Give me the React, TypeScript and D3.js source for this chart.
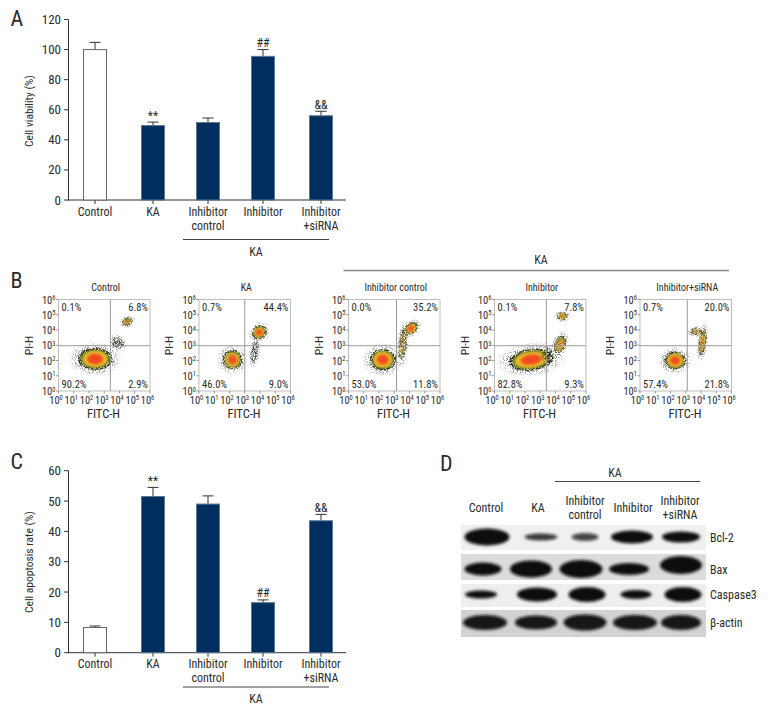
import React from "react";
import * as d3 from "d3";

const FONT = "'Liberation Sans Narrow','Roboto Condensed','Liberation Sans',sans-serif";
const TEXT = "#2b2b2b";
const NAVY = "#002f5f";

const barCategories = [["Control"], ["KA"], ["Inhibitor", "control"], ["Inhibitor"], ["Inhibitor", "+siRNA"]];
const barCenters = [95, 153, 208, 263, 321];
const viabilityValues = [100, 49.5, 51.5, 95.5, 56];
const viabilityErrors = [104.8, 51.8, 54.5, 100, 59];
const viabilityMarks = ["", "**", "", "##", "&&"];
const apoptosisValues = [8.3, 51.5, 49, 16.5, 43.5];
const apoptosisErrors = [8.8, 54.5, 51.7, 17.4, 45.6];
const apoptosisMarks = ["", "**", "", "##", "&&"];

const flowTitles = ["Control", "KA", "Inhibitor control", "Inhibitor", "Inhibitor+siRNA"];
const flowLefts = [58.5, 199, 348.5, 494.5, 640];
const flowQuadX = [3.4, 3.0, 3.15, 3.4, 3.1];
const flowUL = ["0.1%", "0.7%", "0.0%", "0.1%", "0.7%"];
const flowUR = ["6.8%", "44.4%", "35.2%", "7.8%", "20.0%"];
const flowLL = ["90.2%", "46.0%", "53.0%", "82.8%", "57.4%"];
const flowLR = ["2.9%", "9.0%", "11.8%", "9.3%", "21.8%"];
// clusters per plot: [log x, log y, radius x (decades), radius y (decades), rotation, heat 0-1]
const flowClusters: number[][][] = [
  [[2.4, 2.1, 0.95, 0.62, 0, 1], [4.5, 4.55, 0.3, 0.22, -20, 0.55], [3.9, 3.15, 0.28, 0.35, -40, 0.12]],
  [[2.2, 2.05, 0.55, 0.55, 0, 0.72], [3.95, 3.85, 0.42, 0.36, -40, 0.85], [3.65, 2.6, 0.2, 0.6, 10, 0.08]],
  [[2.25, 2.05, 0.72, 0.6, 0, 0.9], [4.1, 4.1, 0.42, 0.3, -40, 0.85], [3.55, 3.05, 0.22, 0.85, 5, 0.25]],
  [[2.4, 2.05, 1.25, 0.6, -8, 1], [4.3, 3.05, 0.3, 0.5, 20, 0.55], [4.45, 4.9, 0.3, 0.22, 0, 0.55], [3.45, 2.45, 0.25, 0.35, 40, 0.2]],
  [[2.3, 2.0, 0.6, 0.5, 0, 0.9], [4.1, 3.2, 0.2, 0.72, 8, 0.55], [3.7, 3.9, 0.35, 0.2, 0, 0.3]],
];

const blotLanes = ["Control", "KA", "Inhibitor\ncontrol", "Inhibitor", "Inhibitor\n+siRNA"];
const blotLaneX = [486, 538, 585, 633, 680];
const blotRows = ["Bcl-2", "Bax", "Caspase3", "β-actin"];
const blotRowY = [537, 569, 594.5, 622.5];
const blotRowTop = [525, 554, 584, 610];
const blotRowBottom = [550, 580, 607, 637];
const blotBg = ["#f0f0f0", "#dcdcdc", "#eeeeee", "#d2d2d2"];
// bands per row: [centre x, width, height, darkness]
const blotBands: number[][][] = [
  [[487, 45, 17, 1], [541, 33, 7, 0.8], [585, 27, 8, 0.75], [632, 42, 13, 1], [681, 38, 11, 1]],
  [[483, 37, 13, 1], [531, 42, 17, 1], [581, 43, 18, 1], [629, 40, 12, 1], [681, 42, 18, 1]],
  [[481, 32, 8, 1], [537, 40, 14, 1], [587, 37, 15, 1], [636, 31, 9, 1], [683, 37, 15, 1]],
  [[485, 44, 15, 0.95], [536, 42, 14, 0.95], [585, 43, 16, 0.95], [635, 44, 15, 0.95], [681, 40, 15, 0.95]],
];

function T({ x, y, children, size = 11, anchor = "middle", rotate, fill = TEXT, sx = 1 }: any) {
  const tf = rotate ? `rotate(${rotate} ${x} ${y})` : sx !== 1 ? `translate(${x} ${y}) scale(${sx} 1) translate(${-x} ${-y})` : undefined;
  return (
    <text x={x} y={y} fontSize={size} textAnchor={anchor} fontFamily={FONT} fill={fill} transform={tf}>
      {children}
    </text>
  );
}

function BarPanel({ y0, yTop, maxV, tickStep, values, errors, marks, yLabel, labelY, lineY, kaY, labelCy }: any) {
  const y = d3.scaleLinear().domain([0, maxV]).range([y0, yTop]);
  const x = d3.scaleOrdinal<number, number>().domain(d3.range(5)).range(barCenters);
  const ticks = d3.range(0, maxV + 1, tickStep);
  return (
    <g>
      <g stroke="#333" strokeWidth={1} fill="none">
        <line x1={68.5} x2={68.5} y1={yTop} y2={y0 + 0.5} />
        <line x1={68} x2={346} y1={y0} y2={y0} />
        {ticks.map((t) => <line key={t} x1={64} x2={68.5} y1={y(t)} y2={y(t)} />)}
        {barCenters.map((c) => <line key={c} x1={c} x2={c} y1={y0} y2={y0 + 4} />)}
      </g>
      {ticks.map((t) => <T key={t} x={61} y={y(t) + 4.5} size={13} anchor="end" sx={1}>{t}</T>)}
      <T x={33} y={labelCy} size={11.5} rotate={-90}>{yLabel}</T>
      {values.map((v: number, i: number) => {
        const cx = x(i);
        return (
          <g key={i}>
            <line x1={cx} x2={cx} y1={y(v)} y2={y(errors[i])} stroke="#333" strokeWidth={1} />
            <line x1={cx - 5.5} x2={cx + 5.5} y1={y(errors[i])} y2={y(errors[i])} stroke="#333" strokeWidth={1} />
            <rect x={cx - 11.5} width={23} y={y(v)} height={y0 - y(v)} fill={i === 0 ? "#fff" : NAVY} stroke={i === 0 ? "#666" : "#5a7792"} strokeWidth={1} />
            {marks[i] && <T x={cx} y={y(errors[i]) - 2.5} size={12}>{marks[i]}</T>}
          </g>
        );
      })}
      {barCategories.map((lines, i) =>
        lines.map((l, j) => <T key={i + "" + j} x={barCenters[i]} y={labelY + j * 13.5} size={12}>{l}</T>)
      )}
      <line x1={183} x2={329} y1={lineY} y2={lineY} stroke="#444" strokeWidth={1} />
      <T x={256} y={kaY} size={12}>KA</T>
    </g>
  );
}

function FlowPlot({ index }: { index: number }) {
  const left = flowLefts[index];
  const size = 91.5;
  const top = 299.5;
  const x = d3.scaleLinear().domain([0, 6]).range([left, left + size]);
  const y = d3.scaleLinear().domain([0, 6]).range([top + size, top]);
  const dec = d3.range(0, 7);
  const qy = y(2.97);
  const qx = x(flowQuadX[index]);
  const clip = `fclip${index}`;
  return (
    <g>
      <clipPath id={clip}><rect x={left} y={top} width={size} height={size} /></clipPath>
      <rect x={left} y={top} width={size} height={size} fill="#fff" stroke="#bdbdbd" strokeWidth={1} />
      <g clipPath={`url(#${clip})`}>
        {flowClusters[index].map((c, i) => {
          const [lx, ly, rx, ry, rot, heat] = c;
          const px = x(lx), py = y(ly);
          const prx = rx * (size / 6), pry = ry * (size / 6);
          const tf = `rotate(${rot} ${px} ${py})`;
          return (
            <g key={i}>
              <g filter="url(#speckle)">
                <ellipse cx={px} cy={py} rx={prx * 1.9} ry={pry * 1.9} transform={tf} fill="url(#halo)" />
              </g>
              <g filter="url(#speckleDense)">
                <ellipse cx={px} cy={py} rx={prx * 1.18} ry={pry * 1.18} transform={tf} fill="#1f2a14" opacity={0.5 + heat * 0.5} />
              </g>
              {heat > 0.2 && <ellipse cx={px} cy={py} rx={prx} ry={pry} transform={tf} fill={`url(#heat)`} opacity={Math.min(1, heat + 0.15)} filter="url(#soft)" />}
              {heat > 0.7 && <ellipse cx={px} cy={py} rx={prx * 0.55} ry={pry * 0.55} transform={tf} fill="#ef3b20" opacity={heat * 0.75} filter="url(#soft)" />}
            </g>
          );
        })}
      </g>
      <line x1={left} x2={left + size} y1={qy} y2={qy} stroke="#9a9a9a" strokeWidth={1} />
      <line x1={qx} x2={qx} y1={top} y2={top + size} stroke="#9a9a9a" strokeWidth={1} />
      {dec.map((d) => (
        <g key={d}>
          <line x1={x(d)} x2={x(d)} y1={top + size} y2={top + size + 2.5} stroke="#999" />
          <line x1={left - 2.5} x2={left} y1={y(d)} y2={y(d)} stroke="#999" />
          <T x={x(d) - 2.5} y={top + size + 12.5} size={10.5}>10<tspan dy={-3.5} fontSize={6.5}>{d}</tspan></T>
          <T x={left - 3} y={y(d) + 4} size={10.5} anchor="end">10<tspan dy={-3.5} fontSize={6.5}>{d}</tspan></T>
        </g>
      ))}
      <T x={left + 2.5 + size / 2 - 1} y={top - 8.5} size={10}>{flowTitles[index]}</T>
      <T x={left + 45} y={top + size + 27} size={12.5}>FITC-H</T>
      <T x={left - 26} y={top + 46} size={11.5} rotate={-90}>PI-H</T>
      <T x={left + 3} y={top + 11} size={10.5} anchor="start">{flowUL[index]}</T>
      <T x={left + size - 2} y={top + 11} size={10.5} anchor="end">{flowUR[index]}</T>
      <T x={left + 3} y={top + 88} size={10.5} anchor="start">{flowLL[index]}</T>
      <T x={left + size - 2} y={top + 88} size={10.5} anchor="end">{flowLR[index]}</T>
    </g>
  );
}

function Blot() {
  return (
    <g>
      {blotRows.map((r, i) => (
        <g key={r}>
          <rect x={461} width={245} y={blotRowTop[i]} height={blotRowBottom[i] - blotRowTop[i]} fill={blotBg[i]} />
          <g clipPath={`url(#blot${i})`}>
            {blotBands[i].map((b, j) => (
              <ellipse key={j} cx={b[0]} cy={blotRowY[i] + (i === 1 && j === 4 ? -4 : 0)} rx={b[1] / 2} ry={b[2] / 2} fill="#0c0c0c" opacity={b[3]} filter="url(#blurBand)" />
            ))}
          </g>
          <clipPath id={`blot${i}`}><rect x={461} width={245} y={blotRowTop[i]} height={blotRowBottom[i] - blotRowTop[i]} /></clipPath>
          <T x={710} y={blotRowY[i] + 4.5} size={12} anchor="start">{r}</T>
        </g>
      ))}
      {blotLanes.map((l, i) =>
        l.split("\n").map((s, j, arr) => (
          <T key={i + "-" + j} x={blotLaneX[i]} y={511.5 + (arr.length === 2 ? (j === 0 ? -6.5 : 7) : 0)} size={12}>{s}</T>
        ))
      )}
      <line x1={555} x2={700} y1={481.5} y2={481.5} stroke="#444" strokeWidth={1} />
      <T x={615} y={477} size={12}>KA</T>
    </g>
  );
}

export default function App() {
  return (
    <svg width={768} height={720} style={{ display: "block", position: "absolute", left: 0, top: 0, background: "#fff" }}>
      <defs>
        <radialGradient id="heat">
          <stop offset="0" stopColor="#ef4a22" />
          <stop offset="0.45" stopColor="#f59a22" />
          <stop offset="0.75" stopColor="#e8c92a" />
          <stop offset="0.95" stopColor="#6f7a1c" />
          <stop offset="1" stopColor="#2b3310" />
        </radialGradient>
        <radialGradient id="halo">
          <stop offset="0" stopColor="#444" stopOpacity="1" />
          <stop offset="0.6" stopColor="#555" stopOpacity="0.85" />
          <stop offset="1" stopColor="#777" stopOpacity="0" />
        </radialGradient>
        <filter id="speckle" x="-20%" y="-20%" width="140%" height="140%">
          <feTurbulence type="fractalNoise" baseFrequency="0.9" numOctaves="2" seed="4" result="n" />
          <feColorMatrix in="n" type="matrix" values="0 0 0 0 0  0 0 0 0 0  0 0 0 0 0  0 0 0 9 -4.6" result="m" />
          <feComposite in="SourceGraphic" in2="m" operator="in" />
        </filter>
        <filter id="speckleDense" x="-20%" y="-20%" width="140%" height="140%">
          <feTurbulence type="fractalNoise" baseFrequency="1.1" numOctaves="2" seed="9" result="n" />
          <feColorMatrix in="n" type="matrix" values="0 0 0 0 0  0 0 0 0 0  0 0 0 0 0  0 0 0 9 -3.8" result="m" />
          <feComposite in="SourceGraphic" in2="m" operator="in" />
        </filter>
        <filter id="soft"><feGaussianBlur stdDeviation="0.8" /></filter>
        <filter id="blurBand" x="-30%" y="-60%" width="160%" height="220%"><feGaussianBlur stdDeviation="1.6" /></filter>
      </defs>

      <T x={10.5} y={26} size={22} anchor="start">A</T>
      <BarPanel y0={200} yTop={19.5} maxV={120} tickStep={20} values={viabilityValues} errors={viabilityErrors} marks={viabilityMarks}
        yLabel="Cell viability (%)" labelY={216} lineY={239.5} kaY={256} labelCy={111} />

      <T x={10.5} y={288} size={22} anchor="start">B</T>
      <line x1={343.5} x2={729} y1={270.5} y2={270.5} stroke="#888" strokeWidth={1.6} />
      <T x={541} y={264} size={12}>KA</T>
      {flowTitles.map((_, i) => <FlowPlot key={i} index={i} />)}

      <T x={10.5} y={469} size={22} anchor="start">C</T>
      <BarPanel y0={652.7} yTop={470.7} maxV={60} tickStep={10} values={apoptosisValues} errors={apoptosisErrors} marks={apoptosisMarks}
        yLabel="Cell apoptosis rate (%)" labelY={668} lineY={687} kaY={703} labelCy={562} />

      <T x={440} y={471} size={22} anchor="start">D</T>
      <Blot />
    </svg>
  );
}
